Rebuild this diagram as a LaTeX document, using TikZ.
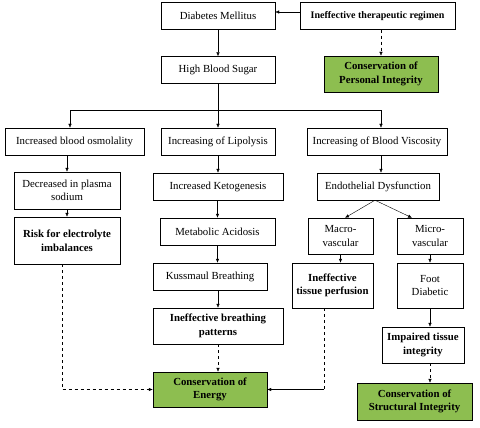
\documentclass[tikz,border=0pt]{standalone}
\usepackage{fontspec}
\setmainfont{Liberation Serif}
\usetikzlibrary{arrows.meta}
\definecolor{consgreen}{RGB}{141,190,80}
\tikzset{
    box/.style 2 args={draw, thin, align=center, inner sep=1pt,
        minimum width=#1, minimum height=#2, font=\fontsize{10.8}{13.6}\selectfont},
    nursing/.style={font=\fontsize{10.8}{13.6}\selectfont\bfseries},
    goal/.style={fill=consgreen, font=\fontsize{10.8}{13.6}\selectfont\bfseries},
    link/.style={thin, -{Latex[length=4pt,width=3.4pt]}},
    dlink/.style={link, dashed},
}
\begin{document}
\begin{tikzpicture}[x=1pt, y=-1pt]
    \useasboundingbox (0,0) rectangle (480,428);
    % top row
    \node[box={114pt}{27pt}] (dm) at (218,16) {Diabetes Mellitus};
    \node[box={155pt}{27pt}, nursing, font=\fontsize{10}{12}\selectfont\bfseries] (itr) at (377.5,16) {Ineffective therapeutic regimen};
    \node[box={114pt}{36pt}, goal] (cpi) at (381,74) {Conservation of\\Personal Integrity};
    \node[box={114pt}{27pt}] (hbs) at (218,70) {High Blood Sugar};
    % left branch
    \node[box={139pt}{27pt}] (ibo) at (74.5,141.5) {Increased blood osmolality};
    \node[box={106pt}{37pt}] (dps) at (67,190.5) {Decreased in plasma\\sodium};
    \node[box={106pt}{47pt}, nursing] (rei) at (67,240.5) {Risk for electrolyte\\imbalances};
    % middle branch
    \node[box={114pt}{27pt}] (lip) at (218,141.5) {Increasing of Lipolysis};
    \node[box={130pt}{27pt}] (ket) at (218,186.5) {Increased Ketogenesis};
    \node[box={115pt}{27pt}] (mac) at (217.5,231.5) {Metabolic Acidosis};
    \node[box={114pt}{27pt}] (kus) at (210,276.5) {Kussmaul Breathing};
    \node[box={130pt}{36pt}, nursing] (ibp) at (218,326) {Ineffective breathing\\patterns};
    \node[box={114pt}{35pt}, goal] (ce) at (210,389.5) {Conservation of\\Energy};
    % right branch
    \node[box={140pt}{27pt}] (ibv) at (377,141.5) {Increasing of Blood Viscosity};
    \node[box={122pt}{27pt}] (endo) at (378,186.5) {Endothelial Dysfunction};
    \node[box={65pt}{36pt}] (macro) at (340.5,236) {Macro-\\vascular};
    \node[box={66pt}{36pt}] (micro) at (430,236) {Micro-\\vascular};
    \node[box={81pt}{45pt}, nursing] (itp) at (332.5,285.5) {Ineffective\\tissue perfusion};
    \node[box={66pt}{45pt}] (foot) at (430,285.5) {Foot\\Diabetic};
    \node[box={82pt}{36pt}, nursing] (iti) at (423,345) {Impaired tissue\\integrity};
    \node[box={115pt}{37pt}, goal] (csi) at (414.5,401.5) {Conservation of\\Structural Integrity};

    \draw[link] ([yshift=4pt]itr.west) -- ([yshift=4pt]dm.east);
    \draw[dlink] (itr.south -| cpi) -- (cpi.north);
    \draw[link] (dm) -- (hbs);
    \coordinate (bus) at (218,110);
    \draw[thin] (hbs) -- (bus);
    \draw[link] (bus) -| ([xshift=-4.5pt]ibo.north);
    \draw[link] (bus) -- (lip);
    \draw[link] (bus) -| ([xshift=4pt]ibv.north);
    % left
    \draw[link] (dps.north |- ibo.south) -- (dps.north);
    \draw[link] (dps) -- (rei);
    \draw[dlink] ([xshift=-5pt]rei.south) |- (ce.west);
    % middle
    \draw[link] (lip) -- (ket);
    \draw[link] (ket.south -| mac) -- (mac.north);
    \draw[link] (mac.south) -- (mac.south |- kus.north);
    \draw[link] (ibp.north |- kus.south) -- (ibp.north);
    \draw[dlink] (ibp.south) -- (ibp.south |- ce.north);
    % right
    \draw[link] ([xshift=4pt]ibv.south) -- ([xshift=3pt]endo.north);
    \draw[link] ([xshift=-3pt]endo.south) -- ([xshift=4.5pt]macro.north);
    \draw[link] ([xshift=-3pt]endo.south) -- ([xshift=-18pt]micro.north);
    \draw[link] (macro.south) -- (macro.south |- itp.north);
    \draw[link] (micro) -- (foot);
    \draw[link] (foot.south) -- (foot.south |- iti.north);
    \draw[dlink] (foot.south |- iti.south) -- (foot.south |- csi.north);
    \coordinate (corner) at ([xshift=-8.5pt]itp.south |- ce.east);
    \draw[thin, dashed] ([xshift=-8.5pt]itp.south) -- (corner);
    \draw[link] (corner) -- (ce.east);
\end{tikzpicture}
\end{document}
